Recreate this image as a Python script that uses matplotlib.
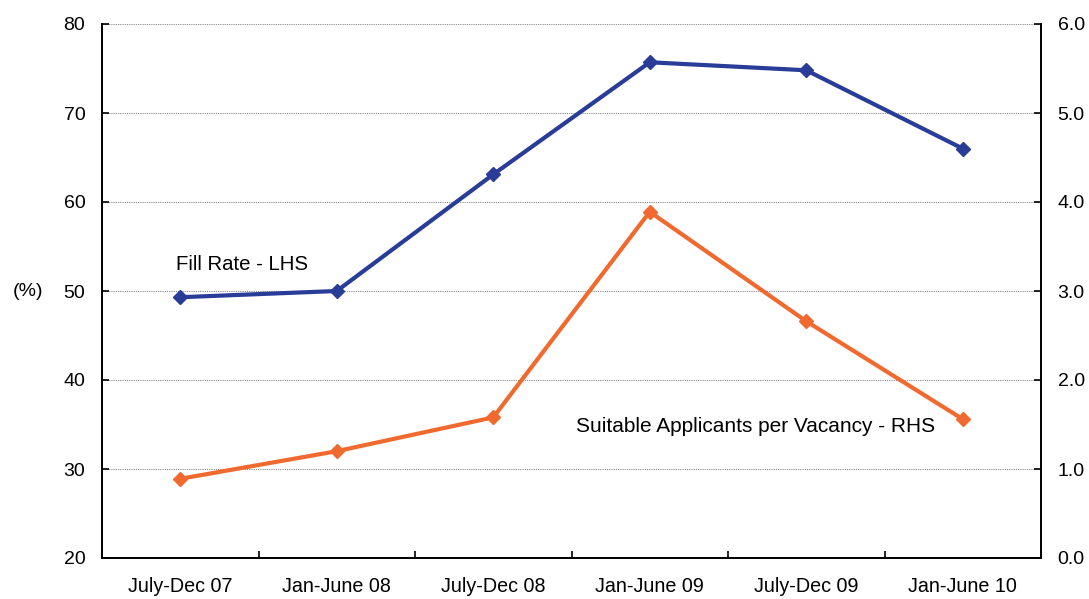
import matplotlib.pyplot as plt

plt.rcParams['font.family'] = ['Liberation Sans', 'DejaVu Sans']

periods = ['July-Dec 07', 'Jan-June 08', 'July-Dec 08', 'Jan-June 09', 'July-Dec 09', 'Jan-June 10']
fill_rate = [49.3, 50.0, 63.1, 75.7, 74.8, 66.0]
applicants = [0.89, 1.20, 1.58, 3.89, 2.66, 1.56]

blue = '#283c98'
orange = '#f06a2f'

fig = plt.figure(figsize=(10.89, 5.99), dpi=100)
ax = fig.add_axes([102 / 1089, 41 / 599, 939 / 1089, 534 / 599])
ax2 = ax.twinx()

x = list(range(len(periods)))
ax.plot(x, fill_rate, color=blue, lw=3, marker='D', ms=7.5, zorder=3)
ax2.plot(x, applicants, color=orange, lw=3, marker='D', ms=7.5, zorder=3)

ax.set_xlim(-0.5, len(periods) - 0.5)
ax.set_ylim(20, 80)
ax.set_yticks(range(20, 81, 10))
ax2.set_ylim(0, 6)
ax2.set_yticks([i * 1.0 for i in range(7)])
ax2.set_yticklabels([f'{i:.1f}' for i in range(7)])

for v in range(30, 81, 10):
    ax.axhline(v, color='#888888', lw=0.8, ls=(0, (1, 1)), zorder=1)

# x ticks between categories, labels centred
ax.set_xticks([i + 0.5 for i in range(len(periods) - 1)])
ax.set_xticklabels([])
ax.set_xticks(x, minor=True)
ax.set_xticklabels(periods, minor=True, fontsize=14.2)
ax.tick_params(axis='x', which='major', direction='in', length=5, width=1.2)
ax.tick_params(axis='x', which='minor', length=0, pad=13.5)
ax.tick_params(axis='y', direction='in', length=5, width=1.2, labelsize=14, pad=12)
ax2.tick_params(axis='y', direction='in', length=5, width=1.2, labelsize=14, pad=12)

for a in (ax, ax2):
    a.spines['top'].set_visible(False)
    for s in ('left', 'right', 'bottom'):
        a.spines[s].set_linewidth(1.3)

fig.text(28 / 1089, 1 - 291 / 599, '(%)', ha='center', va='center', fontsize=14)
ax.text(-0.03, 53.0, 'Fill Rate - LHS', fontsize=14.7, ha='left', va='center')
ax2.text(2.53, 1.48, 'Suitable Applicants per Vacancy - RHS', fontsize=15,
         ha='left', va='center')

fig.savefig('out.png', dpi=100)
